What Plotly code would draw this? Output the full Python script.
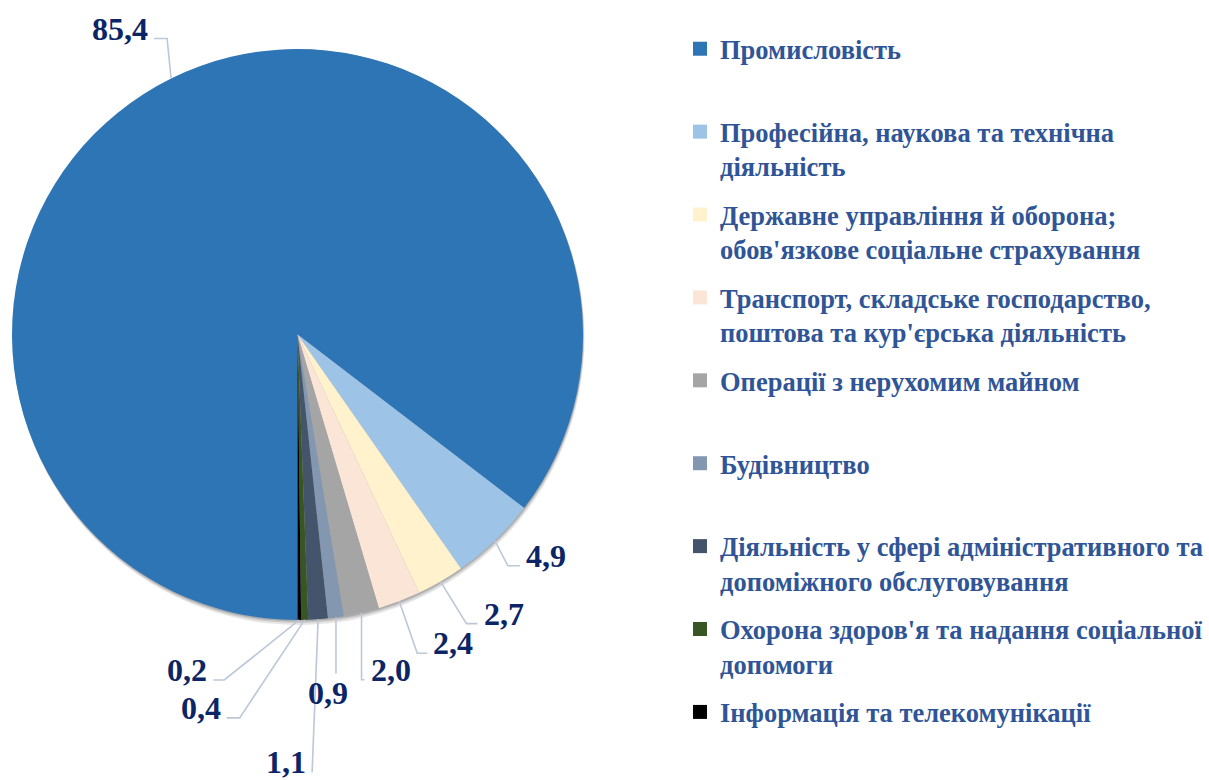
import math
import plotly.graph_objects as go

# ---------------- data ----------------
categories = [
    "Промисловість",
    "Професійна, наукова та технічна діяльність",
    "Державне управління й оборона; обов'язкове соціальне страхування",
    "Транспорт, складське господарство, поштова та кур'єрська діяльність",
    "Операції з нерухомим майном",
    "Будівництво",
    "Діяльність у сфері адміністративного та допоміжного обслуговування",
    "Охорона здоров'я та надання соціальної допомоги",
    "Інформація та телекомунікації",
]
values = [85.4, 4.9, 2.7, 2.4, 2.0, 0.9, 1.1, 0.4, 0.2]
legend_labels = [
    "Промисловість<br> ",
    "Професійна, наукова та технічна<br>діяльність",
    "Державне управління й оборона;<br>обов'язкове соціальне страхування",
    "Транспорт, складське господарство,<br>поштова та кур'єрська діяльність",
    "Операції з нерухомим майном<br> ",
    "Будівництво<br> ",
    "Діяльність у сфері адміністративного та<br>допоміжного обслуговування",
    "Охорона здоров'я та надання соціальної<br>допомоги",
    "Інформація та телекомунікації<br> ",
]
colors = ["#2E75B6", "#9DC3E6", "#FFF2CC", "#FBE5D6", "#A5A5A5",
          "#8497B0", "#44546A", "#375623", "#000000"]

# ---------------- layout config ----------------
W, H = 1209, 780
CX, CY, R = 297.5, 334.5, 285.5          # pie centre / radius in px
ROT = 180                                 # first slice starts at 6 o'clock
LABEL_FONT = dict(family="Liberation Serif", size=32, color="#0B2566", weight="bold")
LEG_FONT = dict(family="Liberation Serif", size=26.5, color="#2F5597", weight="bold")
LINE_COLOR = "#BCC7D8"
# label placement: elbow offset (dx, dy) from slice edge, tail length, direction, mode
label_place = [
    (-4, -40, 13, -1, "side"),
    (13, 25, 12, 1, "side"),
    (26, 42, 11, 1, "side"),
    (18, 52, 10, 1, "side"),
    (0, 67, 3, 1, "side"),
    (0, 56, 0, 1, "below"),
    (-6, 153, 0, -1, "side"),
    (-65, 98, 13, -1, "side"),
    (-75, 60, 11, -1, "side"),
]


def px(x):
    return x / W


def py(y):
    return 1 - y / H


fig = go.Figure()

fig.add_trace(go.Pie(
    labels=categories, values=values, sort=False, direction="clockwise",
    rotation=ROT, marker=dict(colors=colors, line=dict(width=0)),
    textinfo="none", hoverinfo="label+value", showlegend=False,
    domain=dict(x=[px(CX - R), px(CX + R)], y=[py(CY + R), py(CY - R)]),
))

# legend entries
for i, (name, col) in enumerate(zip(legend_labels, colors)):
    fig.add_trace(go.Scatter(
        x=[None], y=[None], mode="markers", name=name, legendgroup=f"g{i}",
        marker=dict(symbol="square", size=14, color=col, line=dict(width=0)),
        hoverinfo="skip",
    ))

# labels + leader lines
total = sum(values)
shapes = []
annotations = []
# soft shadow
for off, op in [(5, 0.10), (3, 0.12), (1.5, 0.14)]:
    shapes.append(dict(type="circle", xref="paper", yref="paper", layer="below",
                       x0=px(CX - R + off * 0.3), x1=px(CX + R + off * 0.3),
                       y0=py(CY + R + off), y1=py(CY - R + off * 0.2),
                       fillcolor=f"rgba(0,0,0,{op})", line=dict(width=0)))

cum = 0.0
for v, (dx, dy, tail, d, mode) in zip(values, label_place):
    mid = math.radians(ROT + 360 * (cum + v / 2) / total)
    cum += v
    ex, ey = CX + R * math.sin(mid), CY - R * math.cos(mid)
    bx, by = ex + dx, ey + dy
    tx = bx + d * tail
    path = f"M {px(ex)},{py(ey)} L {px(bx)},{py(by)} L {px(tx)},{py(by)}"
    shapes.append(dict(type="path", xref="paper", yref="paper", path=path,
                       line=dict(color=LINE_COLOR, width=1.6)))
    text = f"{v:.1f}".replace(".", ",")
    if mode == "below":
        annotations.append(dict(x=px(tx - 8), y=py(by + 20), xref="paper", yref="paper",
                                text=text, showarrow=False, font=LABEL_FONT,
                                xanchor="center", yanchor="middle"))
    else:
        annotations.append(dict(x=px(tx + d * 4), y=py(by - 10), xref="paper", yref="paper",
                                text=text, showarrow=False, font=LABEL_FONT,
                                xanchor="left" if d > 0 else "right", yanchor="middle"))

fig.update_layout(
    width=W, height=H, margin=dict(l=0, r=0, t=0, b=0),
    paper_bgcolor="white", plot_bgcolor="white",
    xaxis=dict(visible=False), yaxis=dict(visible=False),
    shapes=shapes, annotations=annotations,
    legend=dict(x=px(680), y=py(25), xanchor="left", yanchor="top",
                font=LEG_FONT, valign="top", tracegroupgap=11,
                bgcolor="rgba(0,0,0,0)", itemclick=False),
    showlegend=True,
)

fig.write_html("out.html", config={"displayModeBar": False},
               post_script="document.body.style.margin='0';document.body.style.overflow='hidden';")
